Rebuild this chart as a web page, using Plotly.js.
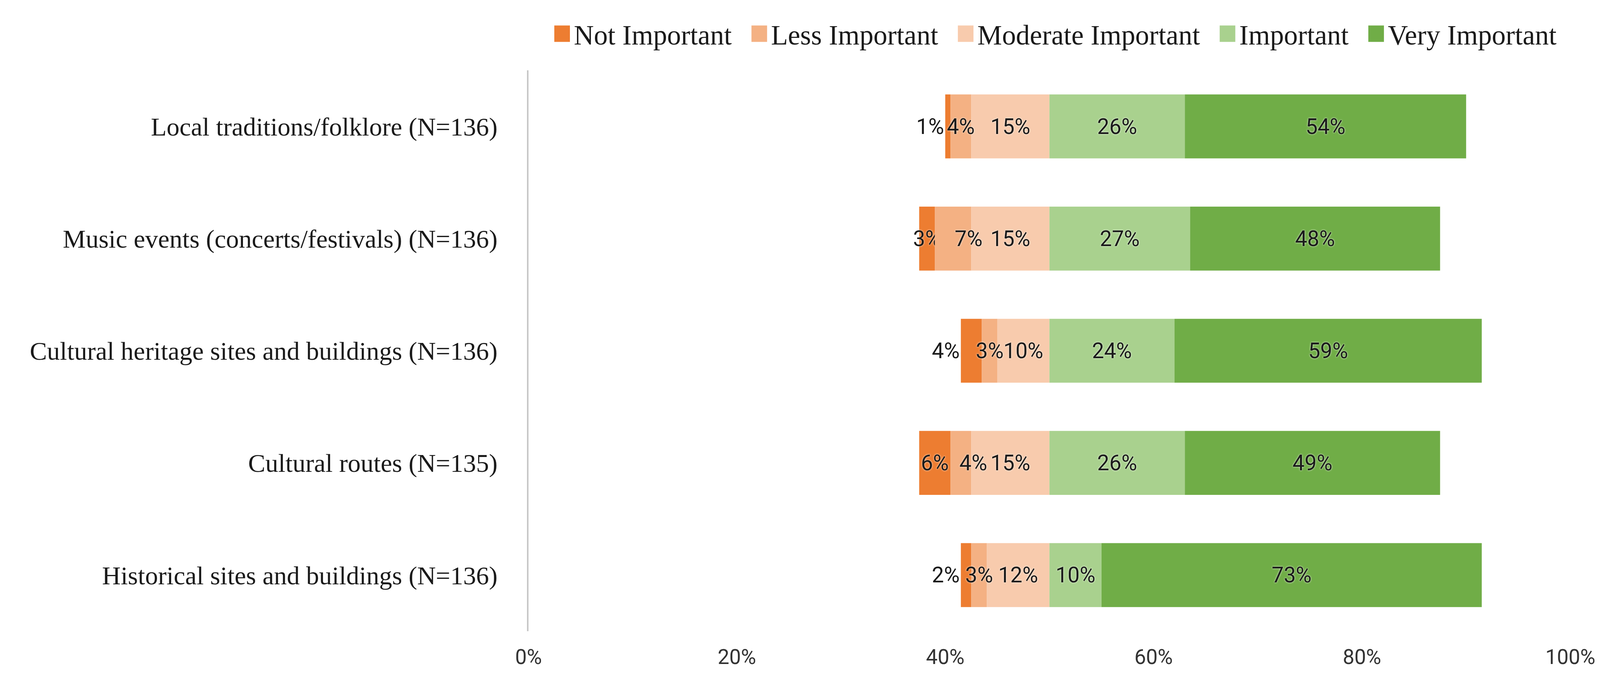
<!DOCTYPE html>
<html>
<head>
<meta charset="utf-8">
<script src="https://cdn.plot.ly/plotly-3.0.1.min.js"></script>
<style>
  html, body { margin: 0; padding: 0; background: #ffffff; }
  #chart { width: 4128px; height: 1764px; }
</style>
</head>
<body>
<div id="chart"></div>
<script>
// ---- data (top to bottom) ----
const categories = [
  "Local traditions/folklore (N=136)",
  "Music events (concerts/festivals) (N=136)",
  "Cultural heritage sites and buildings (N=136)",
  "Cultural routes (N=135)",
  "Historical sites and buildings (N=136)"
];
const seriesNames = ["Not Important", "Less Important", "Moderate Important", "Important", "Very Important"];
const notImportant      = [1, 3, 4, 6, 2];
const lessImportant     = [4, 7, 3, 4, 3];
const moderateImportant = [15, 15, 10, 15, 12];
const important         = [26, 27, 24, 26, 10];
const veryImportant     = [54, 48, 59, 49, 73];
const xTickVals = [0, 20, 40, 60, 80, 100];

// ---- styles ----
const colors = ["#ED7D31", "#F4B183", "#F8CBAD", "#A9D18E", "#70AD47"];
const notImportantTextPos = ["outside", "inside", "outside", "inside", "outside"];
const lessLabelNudgePx = [0, 40, 0, 32, 0];   // label nudges (px) as in the original
const serif = "Liberation Serif, Times New Roman, serif";
const sans = "Roboto, Liberation Sans, sans-serif";
const labelFont = { family: sans, size: 55, color: "#1a1a1a", shadow: "0px 0px 4px rgba(255,255,255,0.9)" };
const legendSpacer = "\u00a0\u00a0";

// diverging layout: the scale shows each share at half width, centred so that
// the "Moderate Important" segment ends at the 50% line
const CENTER = 50;
const half = arr => arr.map(v => v / 2);
const pct = arr => arr.map(v => v + "%");

const modBase  = categories.map(() => CENTER);
const lessBase = moderateImportant.map(m => CENTER - m / 2);
const notBase  = moderateImportant.map((m, i) => CENTER - m / 2 - lessImportant[i] / 2);
const impBase  = categories.map(() => CENTER);
const veryBase = important.map(v => CENTER + v / 2);

function barTrace(name, values, base, color, textpos, negative) {
  return {
    type: "bar",
    orientation: "h",
    name: name + legendSpacer,
    y: categories,
    x: half(values).map(v => negative ? -v : v),
    base: base,
    text: pct(values),
    textposition: textpos,
    textangle: 0,
    constraintext: "none",
    insidetextanchor: "middle",
    insidetextfont: labelFont,
    outsidetextfont: labelFont,
    cliponaxis: false,
    marker: { color: color, line: { width: 0 } },
    hoverinfo: "skip"
  };
}

const traces = [
  barTrace(seriesNames[0], notImportant, notBase, colors[0], notImportantTextPos, true),
  barTrace(seriesNames[1], lessImportant, lessBase, colors[1], "none", true),
  barTrace(seriesNames[2], moderateImportant, modBase, colors[2], "inside", true),
  barTrace(seriesNames[3], important, impBase, colors[3], "inside", false),
  barTrace(seriesNames[4], veryImportant, veryBase, colors[4], "inside", false)
];

// "Less Important" labels, placed at the segment centres through the data axes
const lessLabels = categories.map((c, i) => ({
  xref: "x", yref: "y",
  x: lessBase[i] - lessImportant[i] / 4,
  y: c,
  text: lessImportant[i] + "%",
  showarrow: false,
  xanchor: "center",
  yanchor: "middle",
  xshift: lessLabelNudgePx[i],
  font: labelFont
}));

const layout = {
  width: 4128,
  height: 1764,
  margin: { l: 1353, r: 108, t: 180, b: 148 },
  paper_bgcolor: "#ffffff",
  plot_bgcolor: "#ffffff",
  barmode: "overlay",
  bargap: 0.43,
  showlegend: true,
  annotations: lessLabels,
  legend: {
    orientation: "h",
    x: 0.021,
    xanchor: "left",
    y: 1.065,
    yanchor: "middle",
    font: { family: serif, size: 71, color: "#1a1a1a" },
    itemwidth: 50,
    traceorder: "normal",
    bgcolor: "rgba(0,0,0,0)"
  },
  xaxis: {
    range: [0, 100],
    tickvals: xTickVals,
    ticktext: xTickVals.map(v => v + "%"),
    showgrid: false,
    zeroline: false,
    showline: false,
    ticks: "",
    ticklabelstandoff: 30,
    tickfont: { family: sans, size: 53, color: "#333333" },
    fixedrange: true
  },
  yaxis: {
    type: "category",
    categoryorder: "array",
    categoryarray: categories,
    range: [4.5, -0.5],
    showgrid: false,
    zeroline: false,
    showline: true,
    linecolor: "#c8c8c8",
    linewidth: 4,
    ticks: "",
    ticklabelstandoff: 62,
    tickfont: { family: serif, size: 66, color: "#1a1a1a" },
    fixedrange: true
  }
};

Plotly.newPlot("chart", traces, layout, { displayModeBar: false, staticPlot: true }).then(function () {
  // enlarge legend keys to match the square swatches of the original
  document.querySelectorAll(".legend .legendpoints path").forEach(function (p) {
    p.setAttribute("d", "M20,21H-20V-21H20Z");
  });
});
</script>
</body>
</html>
